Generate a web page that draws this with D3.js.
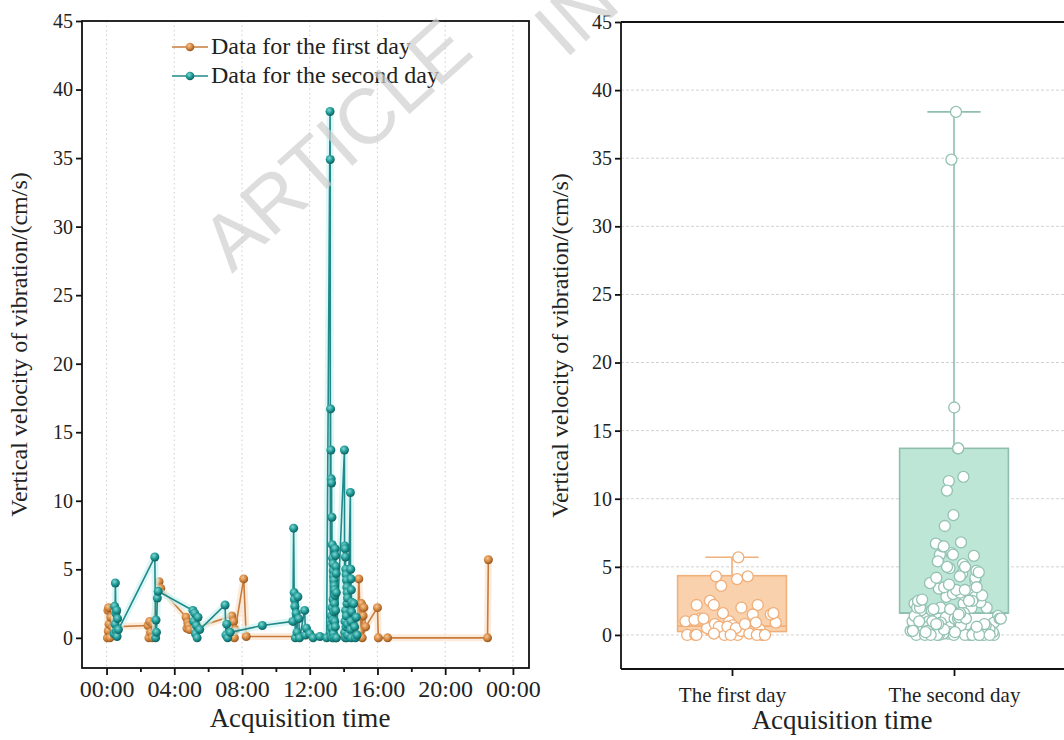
<!DOCTYPE html>
<html>
<head>
<meta charset="utf-8">
<script src="https://cdn.jsdelivr.net/npm/d3@7"></script>
<style>
  body { margin: 0; background: #fff; }
  svg { display: block; }
  text { font-family: "Liberation Serif", "Times New Roman", serif; }
</style>
</head>
<body>
<svg id="chart" width="1064" height="740"></svg>
<script>
// ---- data: acquisition time (hours) and vertical vibration velocity (cm/s) ----
const day1Time  = [0.05, 0.08, 0.1, 0.12, 0.15, 0.2, 0.25, 0.35,
                   2.45, 2.5, 2.55, 2.6, 2.7, 2.75, 3.1, 3.2,
                   4.7, 4.75, 4.8, 4.85, 4.9,
                   7.4, 7.45, 7.5, 7.55, 7.6, 8.1, 8.25,
                   14.8, 14.9, 15.0, 15.05, 15.1, 15.15, 15.2, 15.3,
                   16.0, 16.05, 16.6, 22.5, 22.55];
const day1Value = [0, 2.0, 0.5, 2.2, 1.0, 0, 1.5, 0.8,
                   0.9, 0, 1.2, 0.4, 0, 1.0, 4.1, 3.6,
                   1.5, 0.7, 1.1, 0.9, 0.6,
                   1.6, 0.3, 1.2, 0, 0.6, 4.3, 0.1,
                   0.1, 4.3, 0.5, 2.5, 0, 1.6, 2.2, 0.8,
                   2.2, 0, 0, 0, 5.7];

const day2Time  = [0.45, 0.48, 0.5, 0.52, 0.55, 0.58, 0.6, 0.62, 0.65, 0.7,
                   2.85, 2.9, 2.92, 2.95, 3.0, 3.05,
                   5.1, 5.15, 5.2, 5.25, 5.3, 5.35, 5.4, 5.5,
                   7.0, 7.05, 7.1, 7.15, 7.3,
                   9.2,
                   11.0, 11.05, 11.08, 11.1, 11.12, 11.15, 11.2, 11.25, 11.3, 11.35, 11.4,
                   11.7, 11.75, 11.8, 12.0, 12.2, 12.6, 13.0,
                   13.2, 13.21, 13.22, 13.23, 13.24, 13.25, 13.26, 13.27, 13.28, 13.29,
                   13.3, 13.31, 13.32, 13.33, 13.34, 13.35, 13.36, 13.37, 13.38, 13.39,
                   13.4, 13.41, 13.42, 13.43, 13.44, 13.45, 13.46, 13.47, 13.48, 13.49,
                   13.5, 13.51, 13.52, 13.53, 13.54, 13.55, 13.56, 13.57, 13.58,
                   14.05, 14.06, 14.07, 14.08, 14.09, 14.1, 14.11, 14.12, 14.13, 14.14,
                   14.15, 14.16, 14.17, 14.18, 14.19, 14.2, 14.21, 14.22, 14.23, 14.24,
                   14.4, 14.41, 14.42, 14.43, 14.44, 14.45, 14.46, 14.47, 14.48,
                   14.6, 14.65, 14.7, 14.75, 14.8];
const day2Value = [0.3, 2.3, 1.0, 4.0, 1.8, 0.5, 2.0, 0.1, 1.4, 0.6,
                   5.9, 0, 1.3, 0.4, 2.9, 3.4,
                   2.0, 1.2, 1.8, 0.3, 0.9, 0, 1.5, 0.6,
                   2.4, 0.2, 1.0, 0, 0.4,
                   0.9,
                   1.2, 8.0, 3.3, 2.8, 2.3, 0, 1.8, 0.4, 3.0, 1.4, 0,
                   2.0, 0.2, 0.7, 0.3, 0, 0.1, 0,
                   38.4, 34.9, 0.4, 16.7, 1.0, 13.7, 0.1, 11.6, 1.6, 11.3,
                   0.7, 8.8, 2.2, 6.8, 0, 5.8, 1.3, 5.4, 2.8, 4.9,
                   0.3, 4.5, 1.9, 4.2, 0, 3.8, 2.5, 3.5, 1.2, 3.1,
                   6.5, 0.8, 6.0, 2.0, 5.2, 0, 4.7, 3.3, 0,
                   13.7, 0.4, 6.7, 1.2, 6.5, 0, 5.9, 2.0, 5.0, 0.8,
                   4.6, 1.6, 4.2, 0, 3.7, 2.5, 3.3, 1.0, 2.9, 0.2,
                   10.6, 0.6, 5.0, 1.2, 4.3, 0, 3.5, 1.9, 2.6,
                   2.5, 0.8, 0, 1.5, 0.2];

// ---- box summaries for the two days (cm/s) ----
const categories   = ["The first day", "The second day"];
const boxLow       = [0.25, 1.6];
const boxHigh      = [4.35, 13.7];
const boxMedian    = [0.65, 1.6];
const whiskerMin   = [0, 0];
const whiskerMax   = [5.7, 38.4];

const hourTicks  = [0, 4, 8, 12, 16, 20, 24];
const hourLabels = ["00:00", "04:00", "08:00", "12:00", "16:00", "20:00", "00:00"];
const minorHours = [2, 6, 10, 14, 18, 22];
const valueTicks = [0, 5, 10, 15, 20, 25, 30, 35, 40, 45];
const seriesNames = ["Data for the first day", "Data for the second day"];

// ---- styling ----
const orange = { line: "#C77B3D", glow: "#FBE2CB", ball: ["#F6C593", "#D4873F", "#94551F"],
                 box: "#F9D1AC", edge: "#F0B07A", dot: "#F0AE78" };
const teal   = { line: "#22898A", glow: "#CDF4F2", ball: ["#83D6D2", "#1E9A96", "#0C5F5D"],
                 box: "#BEE6D7", edge: "#8FBEB0", dot: "#93C2B3" };
const ink = "#222";

const svg = d3.select("#chart");
const defs = svg.append("defs");
[["ballOrange", orange], ["ballTeal", teal]].forEach(([id, c]) => {
  const g = defs.append("radialGradient").attr("id", id)
    .attr("cx", "40%").attr("cy", "35%").attr("r", "65%");
  g.append("stop").attr("offset", "0%").attr("stop-color", c.ball[0]);
  g.append("stop").attr("offset", "55%").attr("stop-color", c.ball[1]);
  g.append("stop").attr("offset", "100%").attr("stop-color", c.ball[2]);
});
defs.append("clipPath").attr("id", "clipLeftHalf")
  .append("rect").attr("x", 0).attr("y", 0).attr("width", 530).attr("height", 740);
defs.append("clipPath").attr("id", "clipRightHalf")
  .append("rect").attr("x", 530).attr("y", 0).attr("width", 534).attr("height", 740);

// ================= left panel: time series =================
const L = { left: 82, right: 529, top: 21, bottom: 668 };
const xL = d3.scaleLinear().domain([-1.45, 24.95]).range([L.left, L.right]);
const yL = d3.scaleLinear().domain([-2.2, 45]).range([L.bottom, L.top]);

const left = svg.append("g");

// vertical dotted grid
left.append("g").selectAll("line").data(hourTicks).join("line")
  .attr("x1", d => xL(d)).attr("x2", d => xL(d))
  .attr("y1", L.top).attr("y2", L.bottom)
  .attr("stroke", "#cfcfcf").attr("stroke-width", 1).attr("stroke-dasharray", "1.5,3");

const day1 = day1Time.map((t, i) => ({ t, v: day1Value[i] }));
const day2 = day2Time.map((t, i) => ({ t, v: day2Value[i] }));
const line = d3.line().x(d => xL(d.t)).y(d => yL(d.v));

function drawSeries(data, c, grad) {
  const g = left.append("g");
  g.append("path").attr("d", line(data)).attr("fill", "none")
    .attr("stroke", c.glow).attr("stroke-width", 7).attr("stroke-linejoin", "round").attr("opacity", 0.7);
  g.append("path").attr("d", line(data)).attr("fill", "none")
    .attr("stroke", c.line).attr("stroke-width", 1.6).attr("stroke-linejoin", "round");
  g.selectAll("circle").data(data).join("circle")
    .attr("cx", d => xL(d.t)).attr("cy", d => yL(d.v)).attr("r", 4.5)
    .attr("fill", `url(#${grad})`);
}
drawSeries(day1, orange, "ballOrange");
drawSeries(day2, teal, "ballTeal");

// frame
left.append("rect").attr("x", L.left).attr("y", L.top)
  .attr("width", L.right - L.left).attr("height", L.bottom - L.top)
  .attr("fill", "none").attr("stroke", "#111").attr("stroke-width", 1.8);

// y axis
const yAxisL = left.append("g").attr("transform", `translate(${L.left},0)`)
  .call(d3.axisLeft(yL).tickValues(valueTicks).tickSize(6).tickPadding(3));
yAxisL.select(".domain").remove();
yAxisL.selectAll("text").style("font-size", "20px");

// x axis (major + minor ticks)
const xAxisL = left.append("g").attr("transform", `translate(0,${L.bottom})`)
  .call(d3.axisBottom(xL).tickValues(hourTicks).tickSize(7).tickPadding(5)
        .tickFormat((d, i) => hourLabels[i]));
xAxisL.select(".domain").remove();
xAxisL.selectAll("text").style("font-size", "24px");
const xMinorL = left.append("g").attr("transform", `translate(0,${L.bottom})`)
  .call(d3.axisBottom(xL).tickValues(minorHours).tickSize(4).tickFormat(""));
xMinorL.select(".domain").remove();

[yAxisL, xAxisL, xMinorL].forEach(a => {
  a.selectAll("line").attr("stroke", "#111").attr("stroke-width", 1.8);
  a.selectAll("text").style("font-family", "'Liberation Serif', serif").style("fill", ink);
});

left.append("text").attr("x", 300).attr("y", 727)
  .attr("text-anchor", "middle").style("font-size", "27px").style("fill", ink).text("Acquisition time");
left.append("text").attr("transform", `translate(27,${(L.top + L.bottom) / 2}) rotate(-90)`)
  .attr("text-anchor", "middle").style("font-size", "24px").style("fill", ink)
  .text("Vertical velocity of vibration/(cm/s)");

// legend
const legend = left.append("g");
[[orange, "ballOrange"], [teal, "ballTeal"]].forEach(([c, grad], i) => {
  const y = 47 + i * 29;
  legend.append("line").attr("x1", 172).attr("x2", 208).attr("y1", y).attr("y2", y)
    .attr("stroke", c.line).attr("stroke-width", 1.6);
  legend.append("circle").attr("cx", 190).attr("cy", y).attr("r", 4.3).attr("fill", `url(#${grad})`);
  legend.append("text").attr("x", 211).attr("y", y + 7).style("font-size", "24px")
    .style("fill", ink).text(seriesNames[i]);
});

// ================= right panel: box plot =================
const R = { left: 621, right: 1065, top: 22, bottom: 669 };
const xR = d3.scaleLinear().domain([0.5, 2.5]).range([R.left, R.right]);
const yR = d3.scaleLinear().domain([-2.5, 45]).range([R.bottom, R.top]);
const right = svg.append("g");

// horizontal dashed grid
right.append("g").selectAll("line").data(valueTicks.filter(v => v < 45)).join("line")
  .attr("x1", R.left).attr("x2", R.right)
  .attr("y1", d => yR(d)).attr("y2", d => yR(d))
  .attr("stroke", "#d2d2d2").attr("stroke-width", 1).attr("stroke-dasharray", "3,2");

const boxHalf = 0.245, capHalf = 0.12;
const styles = [orange, teal];
const groups = [day1Value, day2Value];

categories.forEach((name, i) => {
  const c = styles[i], cx = i + 1;
  const g = right.append("g");
  // whiskers
  g.append("line").attr("x1", xR(cx)).attr("x2", xR(cx))
    .attr("y1", yR(boxHigh[i])).attr("y2", yR(whiskerMax[i]))
    .attr("stroke", c.edge).attr("stroke-width", 1.6);
  g.append("line").attr("x1", xR(cx)).attr("x2", xR(cx))
    .attr("y1", yR(boxLow[i])).attr("y2", yR(whiskerMin[i]))
    .attr("stroke", c.edge).attr("stroke-width", 1.6);
  [whiskerMax[i], whiskerMin[i]].forEach(v => {
    g.append("line").attr("x1", xR(cx - capHalf)).attr("x2", xR(cx + capHalf))
      .attr("y1", yR(v)).attr("y2", yR(v)).attr("stroke", c.edge).attr("stroke-width", 1.6);
  });
  // box
  g.append("rect").attr("x", xR(cx - boxHalf)).attr("width", xR(cx + boxHalf) - xR(cx - boxHalf))
    .attr("y", yR(boxHigh[i])).attr("height", yR(boxLow[i]) - yR(boxHigh[i]))
    .attr("fill", c.box).attr("stroke", c.edge).attr("stroke-width", 1.6);
  g.append("line").attr("x1", xR(cx - boxHalf)).attr("x2", xR(cx + boxHalf))
    .attr("y1", yR(boxMedian[i])).attr("y2", yR(boxMedian[i]))
    .attr("stroke", c.edge).attr("stroke-width", 1.6);
  // raw observations: horizontal spread follows local point density
  const vals = groups[i];
  const dens = vals.map(v => vals.filter(w => Math.abs(w - v) <= 1.5).length);
  const maxD = d3.max(dens);
  const pts = vals.map((v, k) => {
    const spread = Math.max(0.12, Math.sqrt(dens[k] / maxD));
    const u = ((k * 0.6180339) % 1) - 0.5;
    return { v, off: u * 2 * (boxHalf - 0.02) * spread };
  });
  g.selectAll("circle").data(pts).join("circle")
    .attr("cx", d => xR(cx + d.off))
    .attr("cy", d => yR(d.v)).attr("r", 5.5)
    .attr("fill", "#fff").attr("stroke", c.dot).attr("stroke-width", 1.3);
});

// axis lines: left, bottom, top
[[R.left, R.left, R.top, R.bottom], [R.left, R.right, R.top, R.top], [R.left, R.right, R.bottom, R.bottom]]
  .forEach(([x1, x2, y1, y2]) => right.append("line")
    .attr("x1", x1).attr("x2", x2).attr("y1", y1).attr("y2", y2)
    .attr("stroke", "#111").attr("stroke-width", 1.8));

const yAxisR = right.append("g").attr("transform", `translate(${R.left},0)`)
  .call(d3.axisLeft(yR).tickValues(valueTicks).tickSize(6).tickPadding(3));
yAxisR.select(".domain").remove();
const xAxisR = right.append("g").attr("transform", `translate(0,${R.bottom})`)
  .call(d3.axisBottom(xR).tickValues([1, 2]).tickSize(7).tickPadding(11)
        .tickFormat((d, i) => categories[i]));
xAxisR.select(".domain").remove();
yAxisR.selectAll("text").style("font-size", "20px");
xAxisR.selectAll("text").style("font-size", "21px");
[yAxisR, xAxisR].forEach(a => {
  a.selectAll("line").attr("stroke", "#111").attr("stroke-width", 1.8);
  a.selectAll("text").style("font-family", "'Liberation Serif', serif").style("fill", ink);
});

right.append("text").attr("x", 842).attr("y", 729)
  .attr("text-anchor", "middle").style("font-size", "27px").style("fill", ink).text("Acquisition time");
right.append("text").attr("transform", `translate(568,${(R.top + R.bottom) / 2}) rotate(-90)`)
  .attr("text-anchor", "middle").style("font-size", "24px").style("fill", ink)
  .text("Vertical velocity of vibration/(cm/s)");

// ---- "ARTICLE IN PRESS" overlay, one piece per panel ----
const stamp = (x, y, str, clip) => svg.append("g").attr("clip-path", `url(#${clip})`)
  .append("text").attr("transform", `translate(${x},${y}) rotate(-42)`)
  .style("font-family", "'Liberation Sans', Arial, sans-serif").style("font-size", "78px")
  .style("fill", "#cfcfcf").attr("opacity", 0.7).text(str);
stamp(232, 274, "ARTICLE", "clipLeftHalf");
stamp(565, 60, "IN PRESS", "clipRightHalf");
</script>
</body>
</html>
